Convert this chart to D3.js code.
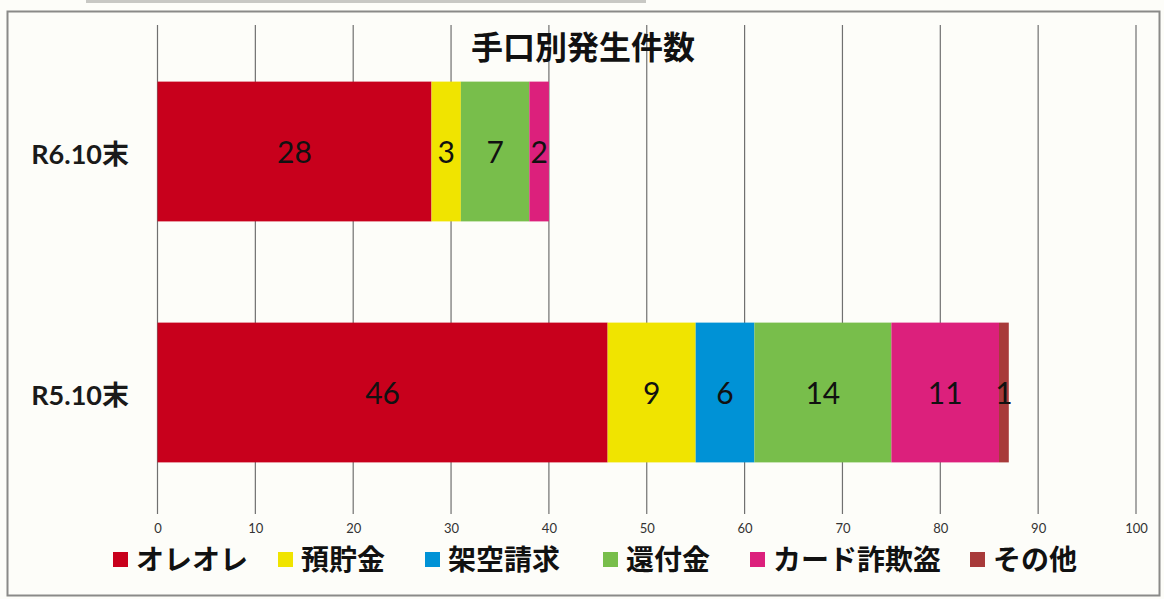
<!DOCTYPE html>
<html><head><meta charset="utf-8">
<script src="https://cdn.jsdelivr.net/npm/d3@7/dist/d3.min.js"></script>
<style>
html,body{margin:0;padding:0;background:#fdfdf9;}
svg{display:block;}
</style></head>
<body><svg id="c" width="1164" height="599"></svg>
<script>
const categories = ["R6.10末", "R5.10末"];
const seriesNames = ["オレオレ", "預貯金", "架空請求", "還付金", "カード詐欺盗", "その他"];
const oreore   = [28, 46];
const yochokin = [3, 9];
const kakuu    = [0, 6];
const kanpu    = [7, 14];
const card     = [2, 11];
const sonota   = [0, 1];
const tickValues = [0, 10, 20, 30, 40, 50, 60, 70, 80, 90, 100];
const title = "手口別発生件数";
const colors = ["#c8001c", "#f0e400", "#0092d6", "#78be4b", "#dc207c", "#a83a3a"];

const series = [oreore, yochokin, kakuu, kanpu, card, sonota];
const rows = categories.map((c, i) => {
  const r = {cat: c};
  seriesNames.forEach((s, j) => r[s] = series[j][i]);
  return r;
});
const stacked = d3.stack().keys(seriesNames)(rows);

const svg = d3.select("#c");
const W = 1164, H = 599;
svg.append("rect").attr("x",0).attr("y",0).attr("width",W).attr("height",H).attr("fill","#fdfdf9");
// scan artifact strip at top
svg.append("rect").attr("x",86).attr("y",0).attr("width",560).attr("height",3).attr("fill","#c8c8c4");
// frame
svg.append("rect").attr("x",7.5).attr("y",11.5).attr("width",1152).attr("height",584)
  .attr("fill","none").attr("stroke","#8a8a88").attr("stroke-width",2);

const x = d3.scaleLinear().domain([0,100]).range([157.5,1136]);
const y = d3.scaleBand().domain(categories).range([31,513]).paddingInner(0.42).paddingOuter(0.21);

// gridlines
svg.append("g").selectAll("line").data(tickValues).join("line")
  .attr("x1", d => x(d)).attr("x2", d => x(d))
  .attr("y1", 25).attr("y2", 514)
  .attr("stroke", "#707070").attr("stroke-width", 1.2);

// x axis labels
const xa = svg.append("g").attr("transform","translate(0,524)")
  .call(d3.axisBottom(x).tickValues(tickValues).tickSize(0).tickPadding(0).tickFormat(d3.format("d")));
xa.select(".domain").remove();
xa.selectAll("text").attr("font-family","Lato, 'Open Sans', sans-serif").attr("font-size",13)
  .attr("fill","#333");

// bars
const g = svg.append("g");
stacked.forEach((s, j) => {
  g.selectAll(null).data(s).join("rect")
    .attr("x", d => x(d[0])).attr("width", d => x(d[1]) - x(d[0]))
    .attr("y", d => y(d.data.cat)).attr("height", y.bandwidth())
    .attr("fill", colors[j]);
  g.selectAll(null).data(s.filter(d => d[1] - d[0] > 0)).join("text")
    .attr("x", d => (x(d[0]) + x(d[1])) / 2)
    .attr("y", d => y(d.data.cat) + y.bandwidth()/2 + 4)
    .attr("text-anchor","middle").attr("dominant-baseline","middle")
    .attr("font-family","Lato, 'Open Sans', sans-serif").attr("font-size",30)
    .attr("fill","#111")
    .text(d => d[1] - d[0]);
});

// category labels
const ya = svg.append("g").attr("transform","translate(129,0)")
  .call(d3.axisLeft(y).tickSize(0).tickPadding(0));
ya.select(".domain").remove();
ya.selectAll("text").attr("font-family","Lato, 'Noto Sans CJK JP', sans-serif")
  .attr("font-size",27).attr("font-weight","bold").attr("fill","#1a1a1a")
  .attr("dy","0.35em").attr("y", 3);

// title
svg.append("text").attr("x",583).attr("y",59).attr("text-anchor","middle")
  .attr("font-family","'Noto Sans CJK JP', sans-serif").attr("font-weight","bold")
  .attr("font-size",32).attr("fill","#111").text(title);

// legend
const legendX = [113, 278, 425, 603, 750, 970];
const lg = svg.append("g");
seriesNames.forEach((s, j) => {
  lg.append("rect").attr("x", legendX[j]).attr("y", 552).attr("width", 15).attr("height", 15)
    .attr("fill", colors[j]);
  lg.append("text").attr("x", legendX[j] + 23).attr("y", 570)
    .attr("font-family","'Noto Sans CJK JP', sans-serif").attr("font-weight","bold")
    .attr("font-size",28).attr("fill","#111").text(s);
});
</script></body></html>
